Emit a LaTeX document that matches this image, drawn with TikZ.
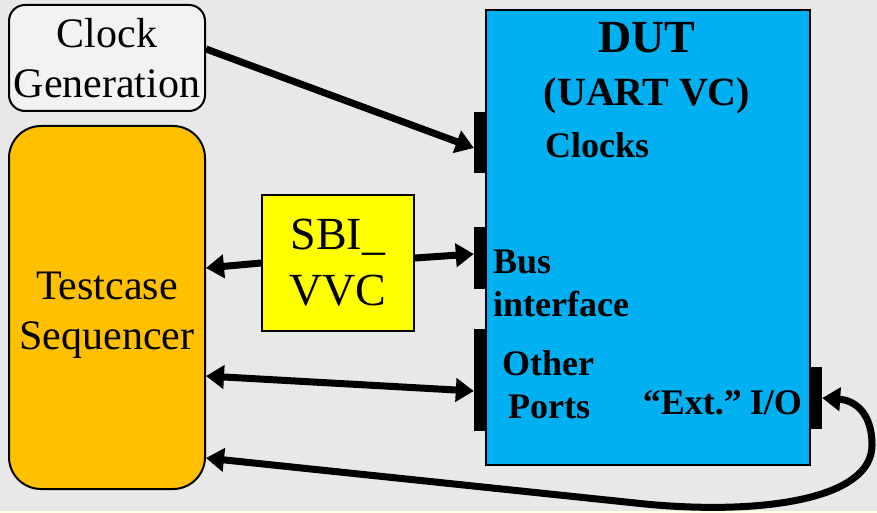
\documentclass[tikz,border=0pt]{standalone}
\usepackage{fontspec}
\setmainfont{Liberation Serif}
\usetikzlibrary{arrows.meta}
\definecolor{bggray}{HTML}{E8E8E8}
\definecolor{strip}{HTML}{FFFFE6}
\definecolor{clkfill}{HTML}{F2F2F2}
\definecolor{seqfill}{HTML}{FFC000}
\definecolor{vvcfill}{HTML}{FFFF00}
\definecolor{dutfill}{HTML}{00B0F0}
\tikzset{
  box/.style={draw=black, line width=2pt, minimum width=#1, inner sep=0pt, align=center},
  port/.style={fill=black, draw=none, minimum width=13pt, inner sep=0pt},
  big/.style={font=\fontsize{42}{50}\selectfont},
  lbl/.style={font=\bfseries\fontsize{36}{44}\selectfont, inner sep=0pt, align=left},
  wire/.style={line width=7pt, {Triangle[length=18pt,width=23pt]}-{Triangle[length=18pt,width=23pt]}},
  towire/.style={line width=7pt, -{Triangle[length=18pt,width=23pt]}}
}
\begin{document}
\begin{tikzpicture}[x=1pt,y=-1pt]
  % page background
  \fill[bggray] (0,0) rectangle (877,513);
  \fill[strip] (0,511) rectangle (877,513);
  \useasboundingbox (0,0) rectangle (877,513);

  % blocks
  \node[box=196pt, minimum height=106pt, rounded corners=16pt, fill=clkfill, big]
    (clock) at (107,58) {Clock\\Generation};
  \node[box=196pt, minimum height=363pt, rounded corners=32pt, fill=seqfill,
    label={[big, align=center, yshift=-8pt]center:Testcase\\Sequencer}]
    (seq) at (107,307.5) {};
  \node[box=152pt, minimum height=136pt, fill=vvcfill, font=\fontsize{46}{56}\selectfont]
    (vvc) at (338,263) {SBI\_\\VVC};
  \node[box=324pt, minimum height=455pt, fill=dutfill] (dut) at (648,237.5) {};

  % DUT labels
  \node[font=\bfseries\fontsize{46}{50}\selectfont, anchor=base, inner sep=0pt]
    (dutname) at (647,53) {DUT};
  \node[font=\bfseries\fontsize{40}{50}\selectfont, anchor=base, inner sep=0pt]
    (dutsub) at (647,106) {(UART VC)};
  \node[lbl, anchor=base west] (lclk) at (545,158) {Clocks};
  \node[lbl, anchor=base west] (lbus) at (493,273) {Bus};
  \node[lbl, anchor=base west] (lbif) at (493,316) {interface};
  \node[lbl, anchor=base west] (loth) at (502,375) {Other};
  \node[lbl, anchor=base west] (lprt) at (508,418) {Ports};
  \node[lbl, anchor=base east] (lext) at (802,414) {``Ext.''\hspace{0.22em}I/O};

  % port bars on the DUT edge
  \node[port, minimum height=61pt] (pclk) at (480.5,142.5) {};
  \node[port, minimum height=62pt] (pbus) at (480.5,258) {};
  \node[port, minimum height=102pt] (poth) at (480.5,380) {};
  \node[port, minimum width=12pt, minimum height=62pt] (pext) at (816,398) {};

  % connectors
  \draw[towire] ([yshift=9pt]clock.east) -- ([yshift=-5.5pt]pclk.west);
  \draw[towire] ([yshift=0pt]vvc.west) -- ([yshift=39.5pt]seq.east);
  \draw[towire] ([yshift=5pt]vvc.east) -- ([yshift=4pt]pbus.west);
  \draw[wire] ([yshift=-68.5pt]seq.east) -- ([yshift=-11pt]poth.west);
  \coordinate (low) at (645,504);
  \draw[wire] ([yshift=-150.5pt]seq.east) -- (low)
    .. controls (760,515) and (872,500) .. (872,445)
    .. controls (872,410) and (852,400) .. (pext.east);
\end{tikzpicture}
\end{document}
